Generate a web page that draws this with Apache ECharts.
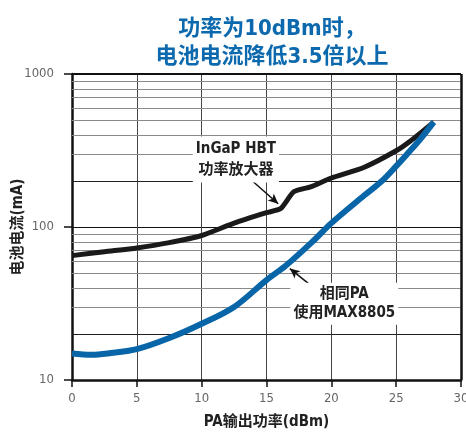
<!DOCTYPE html>
<html><head><meta charset="utf-8">
<script src="https://cdn.jsdelivr.net/npm/echarts@6/dist/echarts.min.js"></script>
<style>html,body{margin:0;padding:0;background:#fff}#c{width:466px;height:434px}</style>
</head><body><div id="c"></div>
<script>
// Data
var hbtX = [0, 2.5, 5, 7.5, 10, 12.5, 15, 16.1, 17.1, 18.4, 20, 22.5, 25, 26.1, 27.9];
var hbtY = [65, 69, 73, 79, 88, 106, 124, 132, 170, 183, 209, 245, 315, 365, 485];
var maxX = [0, 1.5, 3, 5, 7.5, 10, 12.5, 15, 16.5, 18.6, 20, 22.5, 23.9, 25, 25.85, 26.8, 27.9];
var maxY = [14.9, 14.6, 15.0, 15.9, 18.8, 23.3, 30, 45, 56, 81, 106, 160, 200, 250, 300, 370, 485];
var xTicks = [0, 5, 10, 15, 20, 25, 30];
var yTicks = [10, 100, 1000];
var minorDark = [20, 200];
var minorGray = [30, 40, 50, 60, 70, 80, 90, 300, 400, 500, 600, 700, 800, 900];
var titleLines = ['功率为10dBm时，', '电池电流降低3.5倍以上'];
var label1 = ['InGaP HBT', '功率放大器'];
var label2 = ['相同PA', '使用MAX8805'];

var FONT = '"Liberation Sans Narrow", "DejaVu Sans Condensed", "Liberation Sans", "Noto Sans CJK SC", sans-serif';
function pairs(xs, ys){ return xs.map(function(x,i){ return [x, ys[i]]; }); }

var gridLines = [];
minorDark.forEach(function(v){ gridLines.push({yAxis: v, lineStyle:{color:'#222', width:1, type:'solid'}}); });
minorGray.forEach(function(v){ gridLines.push({yAxis: v, lineStyle:{color:'#8a8a8a', width:1, type:'solid'}}); });
gridLines.push({yAxis: 1000, lineStyle:{color:'#111', width:2, type:'solid'}});
gridLines.push({xAxis: 30, lineStyle:{color:'#111', width:2.5, type:'solid'}});

var chart = echarts.init(document.getElementById('c'), null, {renderer:'canvas'});
chart.setOption({
  animation: false,
  backgroundColor: '#fff',
  title: {
    text: titleLines.join('\n'),
    left: 267, top: 10, textAlign: 'center',
    textStyle: {color:'#0d69ad', fontSize:22, fontWeight:'bold', fontFamily: FONT, lineHeight:28}
  },
  grid: {left:72, right:5, top:74, bottom:54, containLabel:false, outerBoundsMode:'none'},
  xAxis: {
    type:'value', min:0, max:30, interval:5,
    axisLine:{show:true, onZero:false, lineStyle:{color:'#111', width:2.5}},
    axisTick:{show:true, length:7, lineStyle:{color:'#111', width:1.5}},
    axisLabel:{color:'#666', fontSize:13, fontFamily:FONT, margin:12,
      formatter:function(v){ return xTicks.indexOf(v)>=0 ? String(v) : ''; }},
    splitLine:{show:true, lineStyle:{color:'#444', width:1}},
    name:'PA输出功率(dBm)', nameLocation:'middle', nameGap:35, nameMoveOverlap:false,
    nameTextStyle:{color:'#222', fontSize:15, fontWeight:'bold', fontFamily:FONT}
  },
  yAxis: {
    type:'log', logBase:10, min:10, max:1000,
    axisLine:{show:true, lineStyle:{color:'#111', width:2.5}},
    axisTick:{show:true, length:8, lineStyle:{color:'#111', width:1.5}},
    axisLabel:{color:'#666', fontSize:13, fontFamily:FONT, margin:18,
      formatter:function(v){ return yTicks.indexOf(Math.round(v))>=0 ? String(Math.round(v)) : ''; }},
    splitLine:{show:true, lineStyle:{color:'#111', width:1.2}},
    name:'电池电流(mA)', nameLocation:'middle', nameGap:46, nameMoveOverlap:false,
    nameTextStyle:{color:'#222', fontSize:15, fontWeight:'bold', fontFamily:FONT}
  },
  series: [
    {
      type:'line', name:'grid', data:[], silent:true,
      markLine:{silent:true, symbol:['none','none'], label:{show:false}, animation:false, data: gridLines}
    },
    {
      type:'line', name:'InGaP HBT', data: pairs(hbtX, hbtY), showSymbol:false,
      smooth:0.2, z:5,
      lineStyle:{color:'#1a1a1a', width:5},
      markPoint:{
        silent:true, symbol:'rect', symbolSize:0,
        data:[{coord:[12.64, 276], value:0}],
        label:{show:true, position:'inside', formatter: label1.join('\n'),
          color:'#222', fontSize:15, fontWeight:'bold', fontFamily:FONT, lineHeight:21,
          backgroundColor:'#fff', padding:[2,3,2,3], align:'center', verticalAlign:'middle'}
      },
      markLine:{silent:true, symbol:['none','arrow'], symbolSize:[7,10], label:{show:false},
        lineStyle:{color:'#111', width:1.5, type:'solid'},
        data:[[{coord:[13.65, 209]}, {coord:[15.9, 142]}]]}
    },
    {
      type:'line', name:'MAX8805', data: pairs(maxX, maxY), showSymbol:false,
      smooth:0.35, z:6,
      lineStyle:{color:'#0865a8', width:6},
      markPoint:{
        silent:true, symbol:'rect', symbolSize:0,
        data:[{coord:[21.0, 31.5], value:0}],
        label:{show:true, position:'inside', formatter: label2.join('\n'),
          color:'#222', fontSize:15, fontWeight:'bold', fontFamily:FONT, lineHeight:19,
          backgroundColor:'#fff', padding:[2,3,2,3], align:'center', verticalAlign:'middle'}
      },
      markLine:{silent:true, symbol:['none','arrow'], symbolSize:[7,10], label:{show:false},
        lineStyle:{color:'#111', width:1.5, type:'solid'},
        data:[[{coord:[18.9, 38.5]}, {coord:[16.8, 53.5]}]]}
    }
  ]
});
</script></body></html>
